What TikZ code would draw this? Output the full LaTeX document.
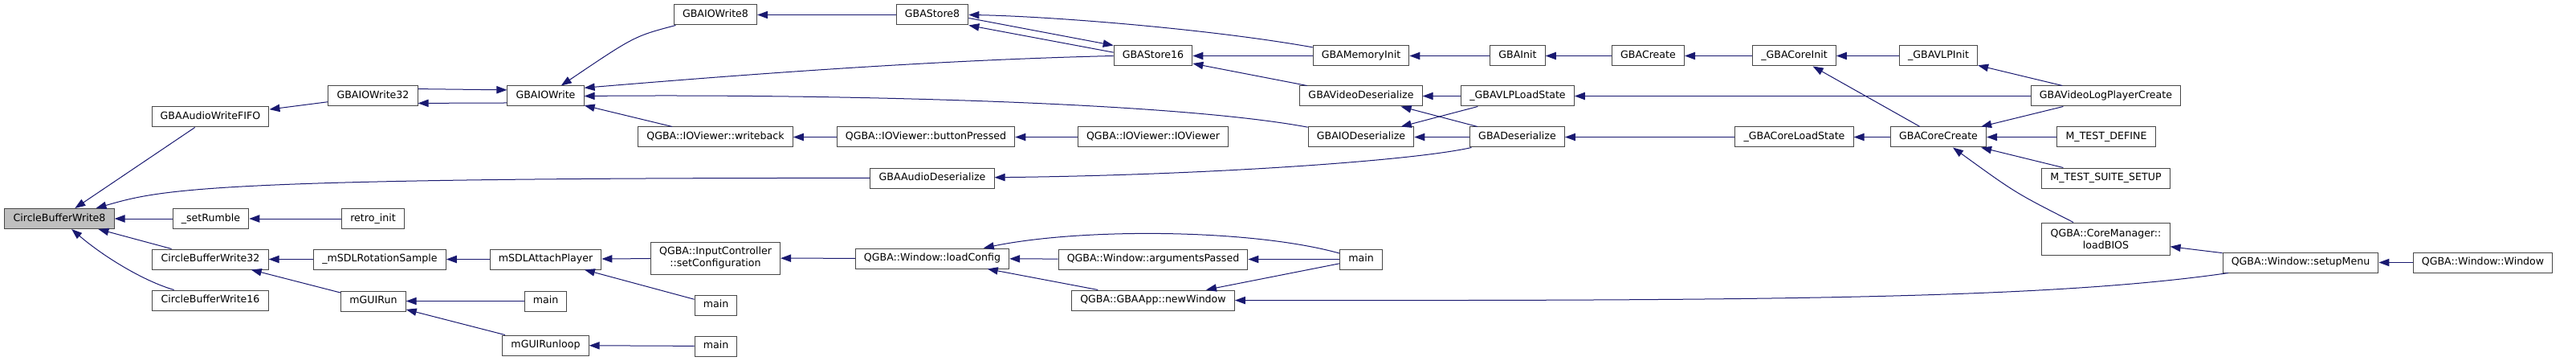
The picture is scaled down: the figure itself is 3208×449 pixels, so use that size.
\documentclass[tikz,border=0pt]{standalone}
\usepackage{fontspec}
\setmainfont{DejaVu Sans}
\usepackage{tikz}
\usetikzlibrary{arrows.meta}
\definecolor{dxEdge}{HTML}{191970}
\definecolor{dxRoot}{HTML}{BFBFBF}
\colorlet{dxBorder}{black!72}

\begin{document}
\begin{tikzpicture}[
  x=0.75pt, y=-0.75pt,
  font=\fontsize{9.45}{11.25}\selectfont,
  >={Triangle[length=9.75pt,width=7pt]},
  fnbox/.style={
    rectangle, draw=dxBorder, fill=white, line width=0.75pt,
    inner xsep=8pt, inner ysep=0pt,
    minimum height=18.75pt, text height=7pt, text depth=2.2pt
  },
  fnroot/.style={fnbox, fill=dxRoot},
  fntwo/.style={
    rectangle, draw=dxBorder, fill=white, line width=0.75pt,
    inner xsep=8pt, inner ysep=4pt, minimum height=30pt, align=center
  },
  callarrow/.style={->, draw=dxEdge, line width=0.75pt}
]
  \useasboundingbox (0,0) rectangle (3208,449);

  % CircleBufferWrite8 (root)
  \node[fnroot] (cbw8) at (74,272) {CircleBufferWrite8};

  % direct callers
  \node[fnbox] (fifo) at (262,145.5) {GBAAudioWriteFIFO};
  \node[fnbox] (setrumble) at (262.5,272) {\_setRumble};
  \node[fnbox] (cbw32) at (262,322.5) {CircleBufferWrite32};
  \node[fnbox] (cbw16) at (262,373.5) {CircleBufferWrite16};

  \node[fnbox] (gbaiowrite32) at (464.5,119.5) {GBAIOWrite32};
  \node[fnbox] (retroinit) at (464.5,272) {retro\_init};
  \node[fnbox] (rotsample) at (473,322.5) {\_mSDLRotationSample};
  \node[fnbox] (mguirun) at (465,374.5) {mGUIRun};

  \node[fnbox] (gbaiowrite) at (679.5,119.5) {GBAIOWrite};
  \node[fnbox] (attachplayer) at (679.5,322.5) {mSDLAttachPlayer};
  \node[fnbox] (maina) at (679.5,374.5) {main};
  \node[fnbox] (mguirunloop) at (679.5,429.5) {mGUIRunloop};

  \node[fnbox] (gbaiowrite8) at (891,18.5) {GBAIOWrite8};
  \node[fnbox] (writeback) at (891,170.5) {QGBA::IOViewer::writeback};
  \node[fntwo] (setconfig) at (891,321) {QGBA::InputController\\::setConfiguration};
  \node[fnbox] (mainb) at (891.5,379.5) {main};
  \node[fnbox] (mainc) at (891.5,430.5) {main};

  % QGBA + store layer
  \node[fnbox] (gbastore8) at (1161,18.5) {GBAStore8};
  \node[fnbox] (buttonpressed) at (1153,170.5) {QGBA::IOViewer::buttonPressed};
  \node[fnbox] (audiodeser) at (1161,221.5) {GBAAudioDeserialize};
  \node[fnbox] (loadconfig) at (1161,321.5) {QGBA::Window::loadConfig};

  \node[fnbox] (gbastore16) at (1436,69.5) {GBAStore16};
  \node[fnbox] (ioviewer) at (1436,170.5) {QGBA::IOViewer::IOViewer};
  \node[fnbox] (argspassed) at (1436,322.5) {QGBA::Window::argumentsPassed};
  \node[fnbox] (newwindow) at (1436,373.5) {QGBA::GBAApp::newWindow};

  \node[fnbox] (memoryinit) at (1695,69.5) {GBAMemoryInit};
  \node[fnbox] (videodeser) at (1695,119.5) {GBAVideoDeserialize};
  \node[fnbox] (iodeser) at (1695,170.5) {GBAIODeserialize};
  \node[fnbox] (maind) at (1695,322.5) {main};

  \node[fnbox] (gbainit) at (1890,69.5) {GBAInit};
  \node[fnbox] (vlploadstate) at (1890,119.5) {\_GBAVLPLoadState};
  \node[fnbox] (gbadeser) at (1889.5,170.5) {GBADeserialize};

  % core creation
  \node[fnbox] (gbacreate) at (2052.5,69.5) {GBACreate};
  \node[fnbox] (coreinit) at (2234.5,69.5) {\_GBACoreInit};
  \node[fnbox] (coreloadstate) at (2234.5,170.5) {\_GBACoreLoadState};
  \node[fnbox] (vlpinit) at (2414,69.5) {\_GBAVLPInit};
  \node[fnbox] (corecreate) at (2414,170.5) {GBACoreCreate};
  \node[fnbox] (vlpcreate) at (2622.5,119.5) {GBAVideoLogPlayerCreate};
  \node[fnbox] (testdefine) at (2623,170.5) {M\_TEST\_DEFINE};
  \node[fnbox] (testsuite) at (2622.5,221.5) {M\_TEST\_SUITE\_SETUP};
  \node[fntwo] (loadbios) at (2622.5,297) {QGBA::CoreManager::\\loadBIOS};
  \node[fnbox] (setupmenu) at (2865,326.5) {QGBA::Window::setupMenu};
  \node[fnbox] (windowctor) at (3092,326.5) {QGBA::Window::Window};

  % Calls into CircleBufferWrite8
  \draw[callarrow] (fifo) -- (cbw8);
  \draw[callarrow] (audiodeser) .. controls (250,221) and (200,236) .. (cbw8);
  \draw[callarrow] (setrumble) -- (cbw8);
  \draw[callarrow] (cbw32) -- (cbw8);
  \draw[callarrow] (cbw16) .. controls (180,350) and (130,320) .. (cbw8);

  \draw[callarrow] (gbaiowrite32) -- (fifo);
  \draw[callarrow] (retroinit) -- (setrumble);
  \draw[callarrow] (rotsample) -- (cbw32);
  \draw[callarrow] (mguirun) -- (cbw32);

  % GBAIOWrite family
  \draw[callarrow] (gbaiowrite32.9) -- (gbaiowrite.171);
  \draw[callarrow] (gbaiowrite.190) -- (gbaiowrite32.351);
  \draw[callarrow] (gbaiowrite8) .. controls (790,45) .. (gbaiowrite);
  \draw[callarrow] (gbastore16.west) .. controls (1150,75) and (900,95) .. (gbaiowrite.12);
  \draw[callarrow] (iodeser) .. controls (1450,125) and (1000,117) .. (gbaiowrite.east);
  \draw[callarrow] (writeback) -- (gbaiowrite);
  \draw[callarrow] (buttonpressed) -- (writeback);
  \draw[callarrow] (ioviewer) -- (buttonpressed);

  % stores and memory
  \draw[callarrow] (gbastore8) -- (gbaiowrite8);
  \draw[callarrow] (gbastore16.175) -- (gbastore8.south east);
  \draw[callarrow] (gbastore8.-5) -- (gbastore16.north west);
  \draw[callarrow] (memoryinit) .. controls (1500,35) and (1300,20) .. (gbastore8.east);
  \draw[callarrow] (memoryinit) -- (gbastore16);
  \draw[callarrow] (videodeser) -- (gbastore16);
  \draw[callarrow] (gbainit) -- (memoryinit);
  \draw[callarrow] (gbacreate) -- (gbainit);
  \draw[callarrow] (coreinit) -- (gbacreate);
  \draw[callarrow] (vlpinit) -- (coreinit);
  \draw[callarrow] (vlpcreate) -- (vlpinit);
  \draw[callarrow] (corecreate) -- (coreinit);

  % deserialize
  \draw[callarrow] (vlploadstate) -- (videodeser);
  \draw[callarrow] (vlploadstate) -- (iodeser);
  \draw[callarrow] (gbadeser) -- (videodeser);
  \draw[callarrow] (gbadeser) -- (iodeser);
  \draw[callarrow] (gbadeser) .. controls (1760,200) and (1500,218) .. (audiodeser);
  \draw[callarrow] (vlpcreate) -- (vlploadstate);
  \draw[callarrow] (coreloadstate) -- (gbadeser);
  \draw[callarrow] (corecreate) -- (coreloadstate);

  % GBACoreCreate callers
  \draw[callarrow] (vlpcreate) -- (corecreate);
  \draw[callarrow] (testdefine) -- (corecreate);
  \draw[callarrow] (testsuite) -- (corecreate);
  \draw[callarrow] (loadbios) .. controls (2510,240) .. (corecreate);
  \draw[callarrow] (setupmenu) -- (loadbios);
  \draw[callarrow] (setupmenu) .. controls (2550,372) and (2200,374) .. (newwindow);
  \draw[callarrow] (windowctor) -- (setupmenu);

  % SDL / GUI side
  \draw[callarrow] (attachplayer) -- (rotsample);
  \draw[callarrow] (setconfig) -- (attachplayer);
  \draw[callarrow] (mainb) -- (attachplayer);
  \draw[callarrow] (maina) -- (mguirun);
  \draw[callarrow] (mguirunloop) -- (mguirun);
  \draw[callarrow] (mainc) -- (mguirunloop);

  % Qt window
  \draw[callarrow] (loadconfig) -- (setconfig);
  \draw[callarrow] (argspassed) -- (loadconfig);
  \draw[callarrow] (newwindow) -- (loadconfig);
  \draw[callarrow] (maind) .. controls (1560,285) and (1350,283) .. (loadconfig);
  \draw[callarrow] (maind) -- (argspassed);
  \draw[callarrow] (maind) -- (newwindow);

\end{tikzpicture}
\end{document}
